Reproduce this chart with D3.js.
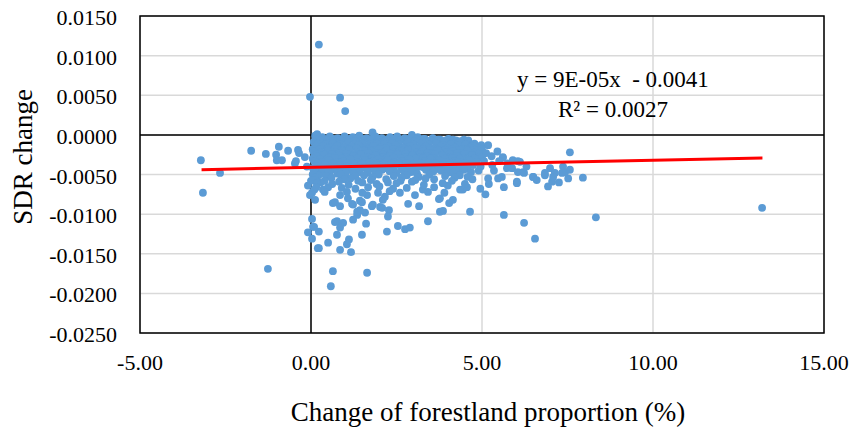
<!DOCTYPE html>
<html><head><meta charset="utf-8">
<script src="https://cdn.jsdelivr.net/npm/d3@7"></script>
<style>body{margin:0;background:#fff}svg{display:block}</style>
</head><body>
<svg id="chart" width="852" height="432"></svg>
<script>
const xTicks = [-5, 0, 5, 10, 15];
const yTicks = [-0.025, -0.02, -0.015, -0.01, -0.005, 0, 0.005, 0.01, 0.015];
const xTitle = "Change of forestland proportion (%)";
const yTitle = "SDR change";
const equationText = "y = 9E-05x  - 0.0041";
const r2Text = "R\u00B2 = 0.0027";
const trendSlope = 9e-5;
const trendIntercept = -0.0041;
const trendXRange = [-3.2, 13.2];

// [change of forestland proportion (%), SDR change]
const outlierPoints = [
  [-3.22,-0.0032],[-3.16,-0.0073],[-2.66,-0.0048],[-1.75,-0.0020],[-1.32,-0.0024],[-1.26,-0.0169],
  [-1.02,-0.0025],[-1.0,-0.0032],[-0.94,-0.0015],[-0.85,-0.0032],[-0.67,-0.0020],[-0.47,-0.0036],
  [-0.44,-0.0033],[-0.35,-0.0023],[-0.38,-0.0019],[-0.18,-0.0028],[-0.12,-0.0040],
  [-0.03,0.0048],[0.23,0.0114],[0.85,0.0047],[1.0,0.0030],[1.8,0.0003],[2.95,0.0000],[0.18,0.0001],
  [-0.09,-0.0064],[-0.03,-0.0076],[0.12,-0.0082],[0.03,-0.0106],[-0.09,-0.0123],[0.06,-0.0116],
  [0.03,-0.0131],[0.2,-0.0143],[0.03,-0.0073],[0.35,-0.0069],[0.64,-0.0086],[0.85,-0.0090],
  [0.23,-0.0122],[0.09,-0.0116],[0.23,-0.0143],[0.5,-0.0136],[0.76,-0.0109],[0.94,-0.0111],
  [0.85,-0.0117],[0.76,-0.0126],[1.11,-0.0132],[1.05,-0.0138],[0.85,-0.0145],[1.17,-0.0148],
  [0.64,-0.0172],[0.58,-0.0191],[1.64,-0.0174],[1.49,-0.0126],[1.61,-0.0112],[2.22,-0.0122],
  [2.25,-0.0103],[2.54,-0.0115],[2.75,-0.0119],[2.89,-0.0117],[3.42,-0.0109],[1.23,-0.0107],
  [1.35,-0.0101],[1.58,-0.0098],[1.43,-0.0095],[1.2,-0.0087],[1.43,-0.0083],[1.78,-0.0090],
  [2.02,-0.0091],[2.28,-0.0095],[2.84,-0.0087],[3.16,-0.0090],[3.74,-0.0081],[3.86,-0.0096],
  [4.04,-0.0086],[4.15,-0.0082],[4.44,-0.0069],[4.65,-0.0097],[3.77,-0.0097],[3.77,-0.0080],
  [3.42,-0.0072],[3.04,-0.0076],[3.27,-0.0069],[2.6,-0.0073],[2.4,-0.0068],[4.36,-0.0069],
  [4.56,-0.0066],[2.16,-0.0078],[2.08,-0.0092],[0.5,-0.0066],[0.7,-0.0085],[0.85,-0.0076],
  [1.08,-0.0080],[1.23,-0.0088],[1.35,-0.0097],[1.49,-0.0085],[1.64,-0.0076],[1.81,-0.0088],
  [1.96,-0.0073],[2.1,-0.0082],[1.67,-0.0066],[0.7,-0.0110],[0.05,-0.0050],[0.1,-0.0069],[0.0,-0.0058]
];
const blobPoints = [
  [0.12,-0.0001],[0.33,-0.0003],[0.55,-0.0002],[0.78,-0.0004],[0.98,-0.0002],[1.22,-0.0003],[1.41,-0.0001],
  [1.63,-0.0004],[1.88,-0.0002],[2.07,-0.0004],[2.31,-0.0003],[2.52,-0.0002],[2.74,-0.0004],[3.12,-0.0003],
  [3.33,-0.0005],[3.56,-0.0004],[3.78,-0.0006],[4.02,-0.0005],[4.24,-0.0007],[4.47,-0.0006],
  [0.22,-0.0005],[0.44,-0.0006],[0.66,-0.0005],[0.9,-0.0006],[1.12,-0.0005],[1.33,-0.0006],[1.55,-0.0005],
  [1.77,-0.0006],[1.99,-0.0005],[2.2,-0.0006],[2.42,-0.0005],[2.64,-0.0006],[2.86,-0.0005],[3.08,-0.0006],
  [3.28,-0.0005],[3.5,-0.0007],[3.72,-0.0006],[3.94,-0.0007],[4.15,-0.0006],[4.38,-0.0008],[4.6,-0.0007],
  [0.08,-0.0009],[0.27,-0.0007],[0.46,-0.0010],[0.66,-0.0008],[0.87,-0.0007],[1.08,-0.0009],[1.29,-0.0008],
  [1.51,-0.0010],[1.72,-0.0007],[1.94,-0.0009],[2.16,-0.0008],[2.38,-0.0010],[2.59,-0.0007],[2.81,-0.0009],
  [3.02,-0.0008],[3.24,-0.0010],[3.45,-0.0009],[3.67,-0.0011],[3.89,-0.0009],[4.11,-0.0011],[4.33,-0.0010],
  [4.55,-0.0012],[4.78,-0.0011],
  [0.2,-0.0011],[0.42,-0.0012],[0.63,-0.0011],[0.85,-0.0012],[1.06,-0.0011],[1.28,-0.0012],[1.5,-0.0011],
  [1.71,-0.0012],[1.93,-0.0011],[2.14,-0.0012],[2.36,-0.0011],[2.57,-0.0012],[2.79,-0.0011],[3.0,-0.0012],
  [3.22,-0.0011],[3.44,-0.0012],[3.66,-0.0011],[3.87,-0.0013],[4.09,-0.0012],[4.3,-0.0013],[4.52,-0.0012],
  [4.74,-0.0014],[4.98,-0.0013],
  [0.14,-0.0015],[0.36,-0.0014],[0.57,-0.0016],[0.77,-0.0014],[0.96,-0.0016],[1.18,-0.0015],[1.39,-0.0013],
  [1.6,-0.0016],[1.82,-0.0014],[2.03,-0.0016],[2.25,-0.0015],[2.47,-0.0013],[2.69,-0.0016],[2.9,-0.0014],
  [3.13,-0.0016],[3.35,-0.0015],[3.56,-0.0017],[3.78,-0.0015],[4.0,-0.0017],[4.21,-0.0016],[4.43,-0.0018],
  [4.65,-0.0016],[4.88,-0.0017],[5.18,-0.0013],
  [0.05,-0.0018],[0.26,-0.0018],[0.48,-0.0017],[0.69,-0.0018],[0.9,-0.0019],[1.12,-0.0018],[1.33,-0.0017],
  [1.55,-0.0018],[1.76,-0.0019],[1.98,-0.0018],[2.19,-0.0017],[2.4,-0.0018],[2.62,-0.0019],[2.84,-0.0018],
  [3.05,-0.0017],[3.27,-0.0018],[3.48,-0.0019],[3.7,-0.0018],[3.92,-0.0019],[4.13,-0.0018],[4.35,-0.0019],
  [4.57,-0.0018],[4.78,-0.0019],[5.0,-0.0018],
  [0.07,-0.0021],[0.28,-0.0022],[0.49,-0.0020],[0.71,-0.0022],[0.92,-0.0021],[1.12,-0.0019],[1.34,-0.0022],
  [1.55,-0.0020],[1.77,-0.0021],[1.98,-0.0023],[2.2,-0.0020],[2.41,-0.0022],[2.63,-0.0021],[2.84,-0.0019],
  [3.06,-0.0022],[3.28,-0.0021],[3.5,-0.0023],[3.71,-0.0020],[3.93,-0.0022],[4.15,-0.0021],[4.37,-0.0023],
  [4.58,-0.0020],[4.8,-0.0022],[5.02,-0.0024],
  [0.18,-0.0024],[0.4,-0.0025],[0.61,-0.0024],[0.82,-0.0023],[1.04,-0.0024],[1.25,-0.0025],[1.47,-0.0024],
  [1.68,-0.0023],[1.9,-0.0024],[2.11,-0.0025],[2.33,-0.0024],[2.54,-0.0023],[2.76,-0.0024],[2.97,-0.0025],
  [3.19,-0.0024],[3.4,-0.0023],[3.62,-0.0024],[3.83,-0.0025],[4.05,-0.0024],[4.27,-0.0023],[4.48,-0.0024],
  [4.7,-0.0025],[4.91,-0.0024],[5.12,-0.0023],
  [0.16,-0.0027],[0.38,-0.0026],[0.6,-0.0028],[0.81,-0.0026],[1.03,-0.0028],[1.24,-0.0027],[1.46,-0.0025],
  [1.67,-0.0028],[1.89,-0.0026],[2.11,-0.0028],[2.32,-0.0027],[2.54,-0.0025],[2.75,-0.0028],[2.97,-0.0026],
  [3.19,-0.0028],[3.4,-0.0027],[3.62,-0.0029],[3.84,-0.0026],[4.06,-0.0028],[4.28,-0.0027],[4.49,-0.0029],
  [4.71,-0.0026],[4.93,-0.0028],[5.28,-0.0027],
  [0.05,-0.0030],[0.26,-0.0031],[0.48,-0.0030],[0.69,-0.0029],[0.91,-0.0030],[1.12,-0.0031],[1.34,-0.0030],
  [1.55,-0.0029],[1.77,-0.0030],[1.98,-0.0031],[2.2,-0.0030],[2.41,-0.0029],[2.63,-0.0030],[2.84,-0.0031],
  [3.06,-0.0030],[3.27,-0.0029],[3.49,-0.0030],[3.7,-0.0031],[3.92,-0.0030],[4.13,-0.0029],[4.35,-0.0030],
  [4.56,-0.0031],[4.78,-0.0030],[5.0,-0.0029],
  [0.09,-0.0033],[0.31,-0.0034],[0.52,-0.0032],[0.74,-0.0034],[0.95,-0.0033],[1.16,-0.0031],[1.38,-0.0034],
  [1.59,-0.0032],[1.81,-0.0033],[2.02,-0.0035],[2.24,-0.0032],[2.45,-0.0034],[2.67,-0.0033],[2.88,-0.0031],
  [3.1,-0.0034],[3.32,-0.0033],[3.53,-0.0035],[3.75,-0.0032],[3.97,-0.0034],[4.19,-0.0033],[4.41,-0.0035],
  [4.62,-0.0032],[4.84,-0.0034],[5.06,-0.0033],
  [0.2,-0.0036],[0.42,-0.0037],[0.63,-0.0036],[0.85,-0.0035],[1.06,-0.0036],[1.28,-0.0037],[1.49,-0.0036],
  [1.71,-0.0035],[1.92,-0.0036],[2.14,-0.0037],[2.35,-0.0036],[2.57,-0.0035],[2.78,-0.0036],[3.0,-0.0037],
  [3.21,-0.0036],[3.43,-0.0035],[3.64,-0.0036],[3.86,-0.0037],[4.07,-0.0036],[4.29,-0.0035],[4.5,-0.0036],
  [4.72,-0.0037],
  [0.18,-0.0039],[0.4,-0.0038],[0.62,-0.0040],[0.83,-0.0038],[1.05,-0.0040],[1.27,-0.0039],[1.48,-0.0037],
  [1.7,-0.0040],[1.91,-0.0038],[2.13,-0.0040],[2.35,-0.0039],[2.56,-0.0037],[2.78,-0.0040],[3.0,-0.0038],
  [3.22,-0.0040],[3.43,-0.0039],[3.65,-0.0041],[3.87,-0.0038],[4.08,-0.0040],[4.3,-0.0039],[4.52,-0.0041],
  [4.74,-0.0038],[4.96,-0.0040],
  [0.06,-0.0042],[0.28,-0.0043],[0.5,-0.0042],[0.71,-0.0041],[0.93,-0.0042],[1.14,-0.0043],[1.36,-0.0042],
  [1.57,-0.0041],[1.79,-0.0042],[2.0,-0.0043],[2.22,-0.0042],[2.43,-0.0041],[2.65,-0.0042],[2.86,-0.0043],
  [3.08,-0.0042],[3.29,-0.0041],[3.51,-0.0042],[3.72,-0.0043],[3.94,-0.0042],[4.15,-0.0041],[4.37,-0.0042],
  [4.58,-0.0043],
  [0.1,-0.0045],[0.33,-0.0046],[0.72,-0.0044],[0.94,-0.0046],[1.2,-0.0045],[1.43,-0.0047],[1.86,-0.0045],
  [2.08,-0.0044],[2.3,-0.0046],[2.7,-0.0045],[2.93,-0.0047],[3.36,-0.0044],[3.58,-0.0046],[3.8,-0.0045],
  [4.24,-0.0046],[4.46,-0.0044],[4.68,-0.0047],[4.9,-0.0045],
  [0.08,-0.0048],[0.3,-0.0049],[0.55,-0.0048],[0.78,-0.0049],[1.02,-0.0048],[1.25,-0.0049],[1.65,-0.0048],
  [2.5,-0.0048],[3.1,-0.0049],[3.98,-0.0048],[4.15,-0.0048],
  [0.22,-0.0051],[0.45,-0.0052],[0.86,-0.0050],[1.3,-0.0052],[1.55,-0.0051],[1.98,-0.0050],[2.42,-0.0052],
  [2.8,-0.0051],[3.15,-0.0053],[3.46,-0.0050],[3.92,-0.0052],[4.35,-0.0051],[4.58,-0.0053],
  [0.12,-0.0054],[0.6,-0.0054],[1.15,-0.0055],[1.8,-0.0053],[2.65,-0.0054],[3.35,-0.0055],[4.2,-0.0054],
  [0.05,-0.0057],[0.4,-0.0058],[0.98,-0.0056],[1.38,-0.0058],[1.75,-0.0057],[2.2,-0.0056],[2.62,-0.0058],
  [3.05,-0.0057],[3.6,-0.0056],[4.12,-0.0058],[4.72,-0.0056],
  [0.28,-0.0060],[0.82,-0.0059],[1.5,-0.0060],[2.25,-0.0060],[2.95,-0.0059],[4.0,-0.0064],
  [0.18,-0.0061],[0.62,-0.0062],[1.1,-0.0063],[1.92,-0.0062],[2.5,-0.0061],[3.3,-0.0063],[3.85,-0.0061],[4.5,-0.0062],
  [0.15,-0.0066],[0.9,-0.0067],[1.3,-0.0068],[2.0,-0.0065],[2.8,-0.0067],[3.6,-0.0066],
  [0.4,-0.0072],[1.05,-0.0072],[1.5,-0.0073],[2.3,-0.0071],[3.9,-0.0073]
];
const tailPoints = [
  [5.61,-0.0028],[5.9,-0.0032],[6.05,-0.0033],[6.2,-0.0047],[6.49,-0.0053],[6.02,-0.0059],[5.47,-0.0055],
  [5.18,-0.0055],[6.84,-0.0051],[7.05,-0.0059],[5.64,-0.0066],[6.02,-0.0061],[6.93,-0.0065],[7.25,-0.0060],
  [7.52,-0.0055],[6.5,-0.0053],[6.6,-0.0057],[6.84,-0.0048],[6.99,-0.0042],[7.13,-0.0048],[7.37,-0.0040],
  [7.43,-0.0047],[7.57,-0.0044],[7.08,-0.0053],[7.34,-0.0048],[5.58,-0.0053],[5.73,-0.0042],[5.88,-0.0042],
  [6.11,-0.0034],[6.05,-0.0047],[6.23,-0.0048],[5.61,-0.0029],[7.57,-0.0022],[7.95,-0.0054],[13.19,-0.0092],
  [8.33,-0.0104],[5.64,-0.0101],[6.23,-0.0111],[6.55,-0.0131],[5.3,-0.0038],[5.45,-0.0021],[5.35,-0.0045],
  [5.5,-0.0033],[5.75,-0.0036],[6.3,-0.0040],[5.2,-0.0062],[4.95,-0.0068],[5.1,-0.0075]
];

const points = outlierPoints.concat(blobPoints, tailPoints);

const fmt = d3.formatLocale({decimal: ".", thousands: ",", grouping: [3], currency: ["", ""], minus: "-"});
const fx = fmt.format(".2f"), fy = fmt.format(".4f");
const font = "'Liberation Serif', 'Times New Roman', serif";

const svg = d3.select("#chart");
const pL = 140, pR = 824, pT = 16, pB = 333;
const x = d3.scaleLinear().domain([-5, 15]).range([pL, pR]);
const y = d3.scaleLinear().domain([-0.025, 0.015]).range([pB, pT]);

svg.append("g").selectAll("line").data(yTicks).join("line")
  .attr("x1", pL).attr("x2", pR).attr("y1", d => y(d)).attr("y2", d => y(d))
  .attr("stroke", "#d9d9d9").attr("stroke-width", 1.5);
svg.append("g").selectAll("line").data(xTicks).join("line")
  .attr("y1", pT).attr("y2", pB).attr("x1", d => x(d)).attr("x2", d => x(d))
  .attr("stroke", "#d9d9d9").attr("stroke-width", 1.5);

svg.append("line").attr("x1", x(0)).attr("x2", x(0)).attr("y1", pT).attr("y2", pB)
  .attr("stroke", "#000").attr("stroke-width", 1.5);
svg.append("line").attr("x1", pL).attr("x2", pR).attr("y1", y(0)).attr("y2", y(0))
  .attr("stroke", "#000").attr("stroke-width", 1.5);

svg.append("rect").attr("x", pL).attr("y", pT).attr("width", pR - pL).attr("height", pB - pT)
  .attr("fill", "none").attr("stroke", "#000").attr("stroke-width", 1.5);

svg.append("g").selectAll("circle").data(points).join("circle")
  .attr("cx", d => x(d[0])).attr("cy", d => y(d[1])).attr("r", 3.9)
  .attr("fill", "#5b9bd5");

svg.append("line")
  .attr("x1", x(trendXRange[0])).attr("y1", y(trendSlope * trendXRange[0] + trendIntercept))
  .attr("x2", x(trendXRange[1])).attr("y2", y(trendSlope * trendXRange[1] + trendIntercept))
  .attr("stroke", "#ff0000").attr("stroke-width", 3);

svg.append("g").selectAll("text").data(yTicks).join("text")
  .attr("x", 117).attr("y", d => y(d) + 1.5).attr("text-anchor", "end").attr("dominant-baseline", "central")
  .attr("font-family", font).attr("font-size", 22).attr("fill", "#000").text(d => fy(d));
svg.append("g").selectAll("text").data(xTicks).join("text")
  .attr("x", d => x(d)).attr("y", 370).attr("text-anchor", "middle")
  .attr("font-family", font).attr("font-size", 22).attr("fill", "#000").text(d => fx(d));

svg.append("text").attr("x", 488).attr("y", 421).attr("text-anchor", "middle")
  .attr("font-family", font).attr("font-size", 27).attr("fill", "#000").text(xTitle);
svg.append("text").attr("transform", "translate(32,157) rotate(-90)").attr("text-anchor", "middle")
  .attr("font-family", font).attr("font-size", 27).attr("fill", "#000").text(yTitle);

svg.append("text").attr("x", 517).attr("y", 87).attr("font-family", font).attr("font-size", 23)
  .attr("fill", "#000").style("white-space", "pre").text(equationText);
svg.append("text").attr("x", 558).attr("y", 117).attr("font-family", font).attr("font-size", 23)
  .attr("fill", "#000").text(r2Text);
</script>
</body></html>
